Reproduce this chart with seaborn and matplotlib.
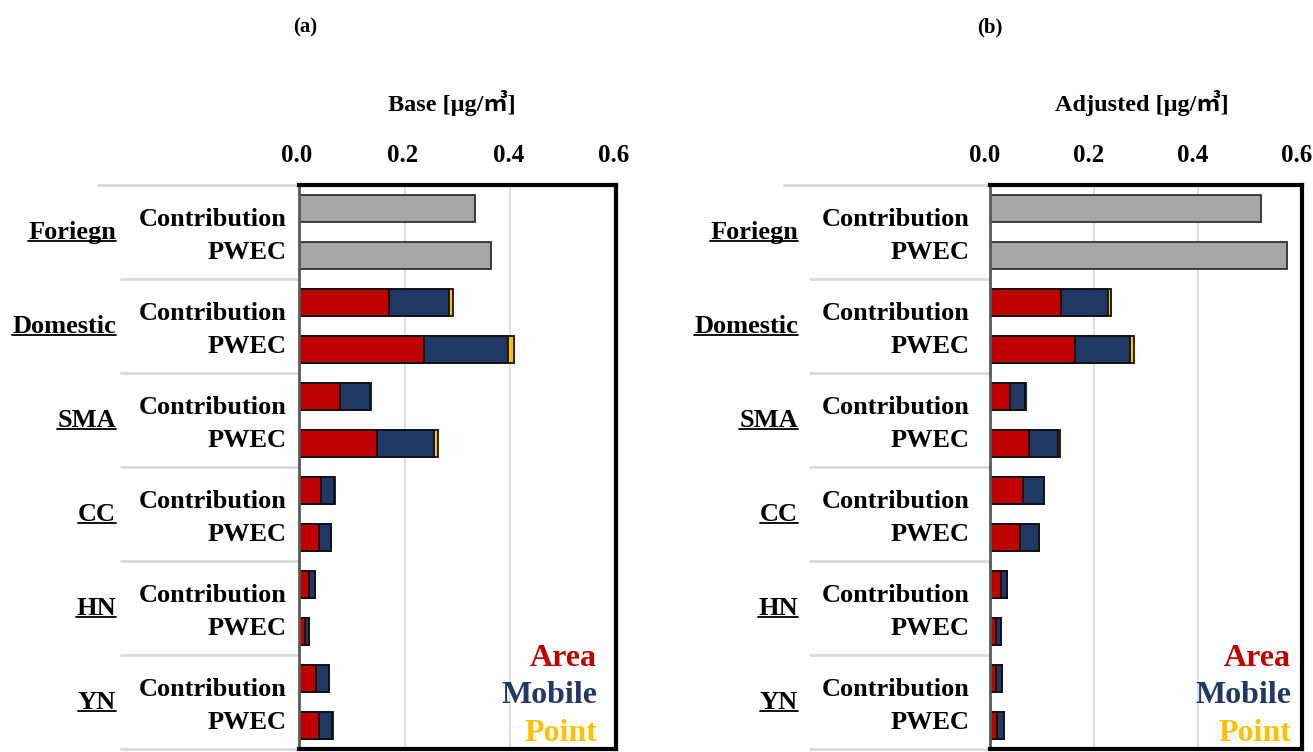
import numpy as np
import pandas as pd
import matplotlib
matplotlib.use("Agg")
import matplotlib.pyplot as plt
import matplotlib.transforms as mtransforms
from matplotlib.lines import Line2D
import seaborn as sns

# ---- data -------------------------------------------------------------
regions = ["Foriegn", "Domestic", "SMA", "CC", "HN", "YN"]
metrics = ["Contribution", "PWEC"]
panel_titles = ["(a)", "(b)"]
axis_titles = ["Base [\u03bcg/\u33a5]", "Adjusted [\u03bcg/\u33a5]"]
x_ticks = [0.0, 0.2, 0.4, 0.6]
x_tick_labels = ["0.0", "0.2", "0.4", "0.6"]
sectors = ["Area", "Mobile", "Point"]

# Foreign (total only): [Contribution, PWEC]
base_foreign = [0.333, 0.364]
adj_foreign = [0.522, 0.571]

# Domestic regions, rows in order Contribution, PWEC for Domestic, SMA, CC, HN, YN
base_area = [0.170, 0.236, 0.077, 0.148, 0.041, 0.037, 0.019, 0.012, 0.033, 0.037]
base_mobile = [0.113, 0.160, 0.057, 0.108, 0.026, 0.023, 0.012, 0.007, 0.023, 0.026]
base_point = [0.009, 0.011, 0.003, 0.007, 0.001, 0.001, 0.000, 0.000, 0.000, 0.001]

adj_area = [0.136, 0.163, 0.038, 0.075, 0.064, 0.057, 0.021, 0.012, 0.012, 0.014]
adj_mobile = [0.091, 0.107, 0.030, 0.055, 0.040, 0.037, 0.012, 0.010, 0.011, 0.012]
adj_point = [0.006, 0.006, 0.001, 0.004, 0.000, 0.000, 0.000, 0.000, 0.000, 0.000]

# ---- style --------------------------------------------------------------
sns.set_theme(style="white")
plt.rcParams["font.family"] = ["Liberation Serif", "Noto Sans CJK KR", "DejaVu Sans"]
plt.rcParams["font.weight"] = "bold"
plt.rcParams["text.color"] = "black"
plt.rcParams["xtick.color"] = "black"

C_AREA = "#c00000"
C_MOBILE = "#203864"
C_POINT = "#ffc000"
C_FOREIGN = "#a6a6a6"
SEP = "#d9d9d9"


def build_frame(foreign, area, mobile, point):
    rows = []
    for m, v in zip(metrics, foreign):
        rows.append(dict(region=regions[0], metric=m, foreign=v,
                         area=np.nan, mobile=np.nan, point=np.nan))
    k = 0
    for r in regions[1:]:
        for m in metrics:
            rows.append(dict(region=r, metric=m, foreign=np.nan,
                             area=area[k], mobile=mobile[k], point=point[k]))
            k += 1
    df = pd.DataFrame(rows)
    df["l_area"] = df["area"]
    df["l_mobile"] = df["area"] + df["mobile"]
    df["l_point"] = df["l_mobile"] + df["point"]
    return df


frames = [build_frame(base_foreign, base_area, base_mobile, base_point),
          build_frame(adj_foreign, adj_area, adj_mobile, adj_point)]

fig = plt.figure(figsize=(13.13, 7.52), dpi=100)
W, H = 1313, 752
# axes boxes in pixels: left, right, top, bottom
boxes = [(299, 616, 185, 749), (990, 1302, 185, 749)]
ctext_off = [-12, -20]
glabel_off = [-183, -192]
sep_start = [(-201, -178), (-206, -180)]
legend_right = [-19, -11]
tick_shift = [-2, -5]
title_x = [305, 990]
axis_title_x = [452, 1142]

bar_kw = dict(orient="h", order=regions, hue="metric", hue_order=metrics,
              width=1.0, gap=0.42, errorbar=None, legend=False, linewidth=1.3,
              saturation=1)

for i, df in enumerate(frames):
    l, r, t, b = boxes[i]
    ax = fig.add_axes([l / W, 1 - b / H, (r - l) / W, (b - t) / H])
    axw = r - l

    fdf = df[df["region"] == regions[0]]
    ddf = df[df["region"] != regions[0]]
    sns.barplot(data=fdf, x="foreign", y="region", ax=ax,
                palette={m: C_FOREIGN for m in metrics}, edgecolor="#303030", **bar_kw)
    for col, colr in (("l_point", C_POINT), ("l_mobile", C_MOBILE), ("l_area", C_AREA)):
        sns.barplot(data=ddf, x=col, y="region", ax=ax,
                    palette={m: colr for m in metrics}, edgecolor="#111111", **bar_kw)

    ax.set_xlim(0, 0.6)
    ax.set_ylim(5.5, -0.5)
    ax.set_xlabel("")
    ax.set_ylabel("")
    ax.set_yticks([])
    ax.xaxis.tick_top()
    ax.set_xticks(x_ticks)
    ax.set_xticklabels(x_tick_labels, fontsize=18, fontweight="bold")
    ax.tick_params(axis="x", length=0, pad=13)
    shift = mtransforms.ScaledTranslation(tick_shift[i] / 100, 0, fig.dpi_scale_trans)
    for lab in ax.get_xticklabels():
        lab.set_transform(lab.get_transform() + shift)
    ax.grid(axis="x", color="#d9d9d9", linewidth=1.2)
    ax.set_axisbelow(True)
    for s in ("top", "right", "bottom"):
        ax.spines[s].set_color("black")
        ax.spines[s].set_linewidth(3)
    ax.spines["left"].set_color("#595959")
    ax.spines["left"].set_linewidth(2)

    trans = mtransforms.blended_transform_factory(ax.transAxes, ax.transData)

    # category separators of the two-level axis
    for j, yb in enumerate(np.arange(-0.5, 6.0, 1.0)):
        x0 = (sep_start[i][0] if j == 0 else sep_start[i][1]) / axw
        ax.add_line(Line2D([x0, 0], [yb, yb], transform=trans, color=SEP,
                           linewidth=2, clip_on=False))

    # inner labels (Contribution / PWEC) and outer region labels
    glabels = []
    for g, reg in enumerate(regions):
        ax.text(ctext_off[i] / axw, g - 0.13, metrics[0], transform=trans,
                ha="right", va="center", fontsize=19, fontweight="bold")
        ax.text(ctext_off[i] / axw, g + 0.22, metrics[1], transform=trans,
                ha="right", va="center", fontsize=19, fontweight="bold")
        tx = ax.text(glabel_off[i] / axw, g + 0.07, reg, transform=trans,
                     ha="right", va="baseline", fontsize=19, fontweight="bold")
        glabels.append((tx, g + 0.07))

    # sector key
    for txt, colr, yy in zip(sectors, [C_AREA, C_MOBILE, C_POINT], [0.161, 0.094, 0.027]):
        ax.text(1 + legend_right[i] / axw, yy, txt, transform=ax.transAxes,
                ha="right", va="center", fontsize=23, fontweight="bold", color=colr)

    fig.text(title_x[i] / W, 1 - 27 / H, panel_titles[i], ha="center", va="center",
             fontsize=15, fontweight="bold")
    fig.text(axis_title_x[i] / W, 1 - 103 / H, axis_titles[i], ha="center", va="center",
             fontsize=17.5, fontweight="bold")

    ax._glabels = glabels

# underline the region labels
fig.canvas.draw()
renderer = fig.canvas.get_renderer()
for ax in fig.axes:
    for tx, yv in ax._glabels:
        bb = tx.get_window_extent(renderer)
        ybase = ax.transData.transform((0, yv))[1] - 2
        p0 = fig.transFigure.inverted().transform((bb.x0, ybase))
        p1 = fig.transFigure.inverted().transform((bb.x1, ybase))
        fig.add_artist(Line2D([p0[0], p1[0]], [p0[1], p1[1]], transform=fig.transFigure,
                              color="black", linewidth=1.3))

fig.savefig("out.png", dpi=100)
